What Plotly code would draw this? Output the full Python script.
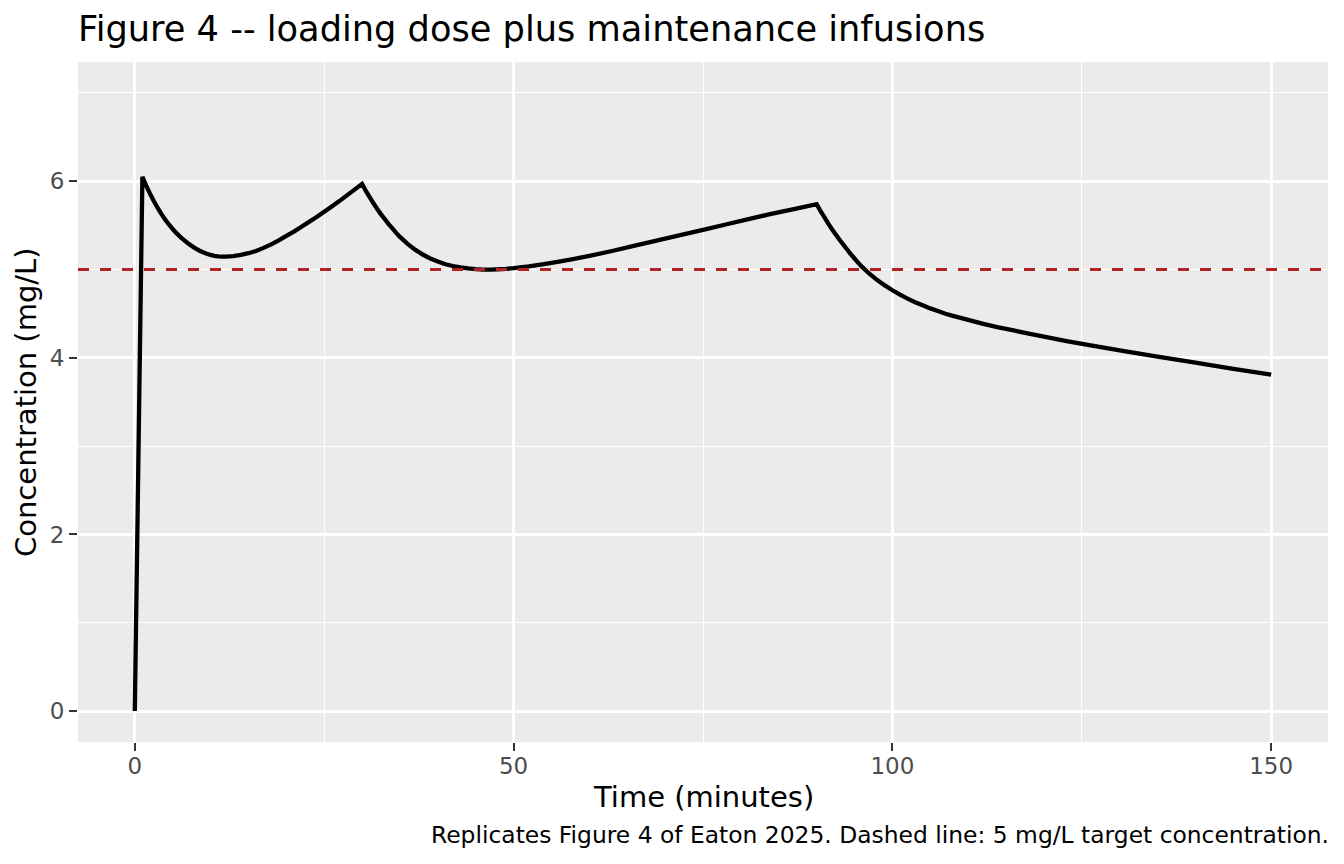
import plotly.graph_objects as go

# Concentration curve (time in minutes, mg/L)
time_min = [0, 1, 1.5, 2, 2.5, 3, 3.5, 4, 4.5, 5, 5.5, 6, 6.5, 7, 7.5, 8, 8.5, 9,
            9.5, 10, 10.5, 11, 11.5, 12, 13, 14, 15, 16, 17, 18, 19, 20, 21, 22,
            23, 24, 25, 26, 27, 28, 29, 30,
            30.5, 31, 31.5, 32, 32.5, 33, 33.5, 34, 34.5, 35, 36, 37, 38, 39, 40,
            41, 42, 43, 44, 45, 46, 47, 48, 49, 50, 52, 54, 56, 58, 60, 63, 66,
            69, 72, 75, 78, 81, 84, 87, 90,
            90.5, 91, 91.5, 92, 92.5, 93, 93.5, 94, 94.5, 95, 95.5, 96, 97, 98,
            99, 100, 101, 102, 103, 104, 105, 106, 107, 108, 110, 112, 114, 116,
            118, 120, 123, 126, 130, 135, 140, 145, 150]
conc_mgl = [0.00, 6.05, 5.95, 5.86, 5.775, 5.70, 5.63, 5.567, 5.51, 5.458, 5.412,
            5.37, 5.332, 5.298, 5.268, 5.24, 5.216, 5.196, 5.179, 5.165, 5.155,
            5.149, 5.146, 5.146, 5.152, 5.165, 5.185, 5.21, 5.245, 5.285, 5.33,
            5.38, 5.43, 5.485, 5.54, 5.595, 5.655, 5.715, 5.775, 5.84, 5.905, 5.97,
            5.89, 5.82, 5.75, 5.685, 5.625, 5.57, 5.515, 5.465, 5.415, 5.37, 5.29,
            5.225, 5.17, 5.125, 5.09, 5.06, 5.04, 5.025, 5.013, 5.005, 5.00, 5.00,
            5.003, 5.008, 5.015, 5.035, 5.06, 5.09, 5.12, 5.155, 5.21, 5.27, 5.33,
            5.39, 5.45, 5.51, 5.57, 5.63, 5.685, 5.74,
            5.665, 5.595, 5.525, 5.46, 5.40, 5.34, 5.285, 5.23, 5.175, 5.125, 5.075,
            5.03, 4.95, 4.88, 4.82, 4.765, 4.715, 4.67, 4.63, 4.595, 4.56, 4.53,
            4.50, 4.475, 4.43, 4.385, 4.345, 4.31, 4.275, 4.24, 4.19, 4.145, 4.085,
            4.015, 3.945, 3.875, 3.81]
target_mgl = 5

FONT = 'DejaVu Sans'

fig = go.Figure()
fig.add_trace(go.Scatter(x=time_min, y=conc_mgl, mode='lines',
                         line=dict(color='black', width=4.3, simplify=False),
                         hoverinfo='x+y'))
fig.add_hline(y=target_mgl, line=dict(color='#B22222', width=3, dash='11px,11px'))

axis_common = dict(
    showgrid=True, gridcolor='white', gridwidth=2.7,
    zeroline=False, showline=False,
    ticks='outside', ticklen=8, tickwidth=2, tickcolor='#333333',
    tickfont=dict(family=FONT, size=23, color='#4D4D4D'),
)
fig.update_xaxes(range=[-7.5, 157.5], tick0=0, dtick=50, ticklabelstandoff=-5,
                 minor=dict(dtick=25, showgrid=True, gridcolor='white', gridwidth=1.4, ticks=''),
                 **axis_common)
fig.update_yaxes(range=[-0.35, 7.35], tick0=0, dtick=2,
                 minor=dict(dtick=1, showgrid=True, gridcolor='white', gridwidth=1.4, ticks=''),
                 **axis_common)

fig.update_layout(
    width=1344, height=864,
    margin=dict(l=78, r=16, t=62, b=122),
    paper_bgcolor='white', plot_bgcolor='#EBEBEB',
    showlegend=False,
    font=dict(family=FONT, color='black'),
    title=dict(text='Figure 4 -- loading dose plus maintenance infusions',
               font=dict(family=FONT, size=35.2, color='black'),
               x=78 / 1344, xanchor='left', xref='container',
               y=1 - 28.7 / 864, yanchor='middle', yref='container'),
    annotations=[
        dict(text='Time (minutes)', xref='paper', yref='paper',
             x=0.5, y=-(797 - 742) / 680, xanchor='center', yanchor='middle',
             showarrow=False, font=dict(family=FONT, size=29, color='black')),
        dict(text='Concentration (mg/L)', xref='paper', yref='paper',
             x=-(78 - 26) / 1250, y=0.5, xanchor='center', yanchor='middle',
             textangle=-90, showarrow=False,
             font=dict(family=FONT, size=29, color='black')),
        dict(text='Replicates Figure 4 of Eaton 2025. Dashed line: 5 mg/L target concentration.',
             xref='paper', yref='paper', x=1 + 3 / 1250, y=-(835 - 742) / 680,
             xanchor='right', yanchor='middle', showarrow=False,
             font=dict(family=FONT, size=23.4, color='black')),
    ],
)

fig.write_html("out.html", config={'displayModeBar': False},
               post_script="document.body.style.margin='0';")
